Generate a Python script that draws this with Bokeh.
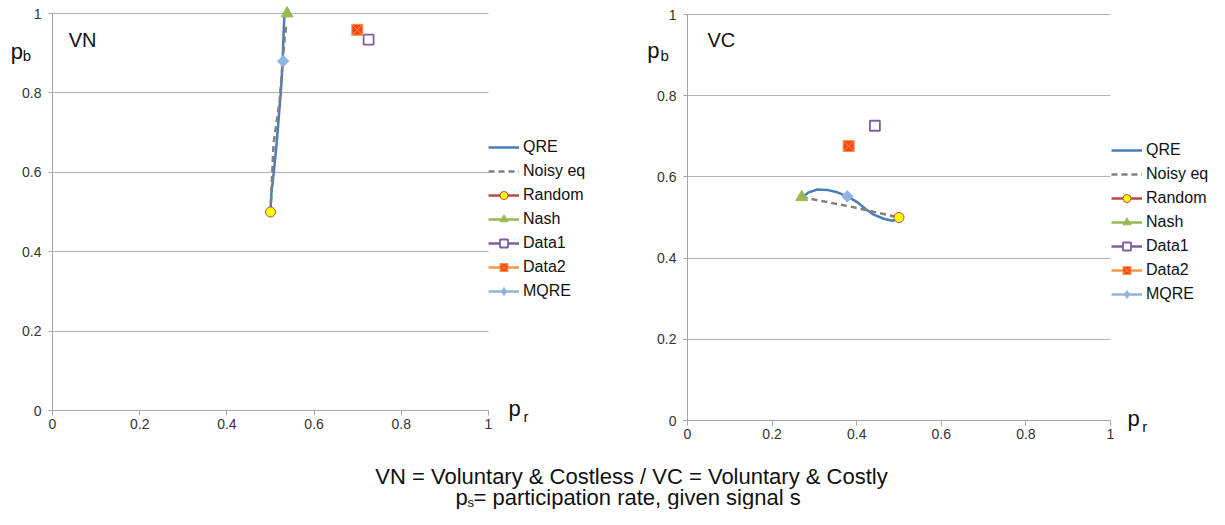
from bokeh.plotting import figure
from bokeh.models import Range1d, FixedTicker, Legend, LegendItem, Label, BoxAnnotation, Grid
from bokeh.layouts import column, row
from bokeh.embed import file_html
from bokeh.resources import INLINE

# ---------------- data ----------------
tick_vals = [0, 0.2, 0.4, 0.6, 0.8, 1]
tick_labels = ["0", "0.2", "0.4", "0.6", "0.8", "1"]
series_names = ["QRE", "Noisy eq", "Random", "Nash", "Data1", "Data2", "MQRE"]

# VN panel
vn_qre_x = [0.5, 0.502, 0.508, 0.514, 0.519, 0.524, 0.528, 0.530, 0.532]
vn_qre_y = [0.5, 0.546, 0.605, 0.672, 0.739, 0.806, 0.882, 0.95, 1.0]
vn_noisy_x = [0.5, 0.507, 0.521, 0.527, 0.532, 0.536]
vn_noisy_y = [0.5, 0.672, 0.781, 0.865, 0.932, 0.97]
vn_random = (0.5, 0.5)
vn_nash = (0.538, 1.0)
vn_data1 = (0.725, 0.934)
vn_data2 = (0.699, 0.959)
vn_mqre = (0.529, 0.88)

# VC panel
vc_qre_x = [0.27, 0.287, 0.307, 0.33, 0.354, 0.378, 0.401, 0.421, 0.44, 0.464, 0.484, 0.495, 0.5]
vc_qre_y = [0.55, 0.562, 0.569, 0.568, 0.562, 0.552, 0.538, 0.521, 0.507, 0.497, 0.492, 0.495, 0.5]
vc_noisy_x = [0.27, 0.385, 0.5]
vc_noisy_y = [0.55, 0.527, 0.5]
vc_random = (0.5, 0.5)
vc_nash = (0.27, 0.55)
vc_data1 = (0.443, 0.726)
vc_data2 = (0.381, 0.676)
vc_mqre = (0.378, 0.552)

caption_1 = "VN = Voluntary & Costless / VC = Voluntary & Costly"
caption_2 = " = participation rate, given signal s"

FONT = "Liberation Sans"
GRID = "#B3B3B3"
AXIS = "#A6A6A6"
TXT = "#111111"

ROW_H = 443


def make_panel(qx, qy, nx, ny, rnd, nash, d1, d2, mq, width, px0, px1, py1, py0,
               leg_loc, lab):
    # frame fills the whole figure; the unit square maps to pixels px0..px1, py1..py0 (from top)
    sx = px1 - px0
    sy = py0 - py1
    xr = Range1d(-px0 / sx, (width - px0) / sx)
    yr = Range1d(-(ROW_H - py0) / sy, 1 + py1 / sy)
    p = figure(width=width, height=ROW_H, output_backend="svg", toolbar_location=None,
               x_range=xr, y_range=yr, min_border_left=0, min_border_right=0,
               min_border_top=0, min_border_bottom=0)
    p.outline_line_color = None
    p.background_fill_color = "white"
    p.border_fill_color = "white"
    p.xgrid.grid_line_color = None
    p.ygrid.ticker = FixedTicker(ticks=tick_vals)
    p.ygrid.grid_line_color = GRID
    p.ygrid.grid_line_width = 1
    if "cross_bounds" in Grid.properties():
        p.ygrid.cross_bounds = (0, 1)
    else:
        for kw in (dict(right=0), dict(left=1)):
            p.add_layout(BoxAnnotation(fill_color="white", fill_alpha=1, line_color=None,
                                       level="underlay", **kw))
    overrides = {v: l for v, l in zip(tick_vals, tick_labels)}
    for ax in (p.xaxis[0], p.yaxis[0]):
        ax.fixed_location = 0
        ax.bounds = (0, 1)
        ax.ticker = FixedTicker(ticks=tick_vals)
        ax.major_label_overrides = overrides
        ax.axis_line_color = AXIS
        ax.major_tick_line_color = AXIS
        ax.minor_tick_line_color = None
        ax.major_tick_in = 0
        ax.major_label_text_font = FONT
        ax.major_label_text_font_size = "14px"
        ax.major_label_text_color = "#333333"
    p.xaxis.major_tick_out = 5
    p.xaxis.major_label_standoff = 3
    p.yaxis.major_tick_out = 4
    p.yaxis.major_label_standoff = 7

    r_qre = p.line(qx, qy, line_color="#4A7EBB", line_width=2.5)
    r_noisy = p.line(nx, ny, line_color="#808080", line_width=2.5, line_dash="6 4")

    def point(pt, line_color, marker, fill, edge, size, lw=1.0):
        rl = p.line([pt[0]], [pt[1]], line_color=line_color, line_width=2.5)
        rs = p.scatter([pt[0]], [pt[1]], marker=marker, size=size, fill_color=fill,
                       line_color=edge, line_width=lw)
        return [rl, rs]

    r_rand = point(rnd, "#BE4B48", "circle", "#FFFF00", "#BE4B48", 10, 1.0)
    r_nash = point(nash, "#98B954", "triangle", "#98B954", "#98B954", 12, 1.0)
    r_d1 = point(d1, "#7D60A0", "square", "white", "#7D60A0", 10, 1.8)
    r_d2 = point(d2, "#F79646", "square_x", "#FA4616", "#F79646", 11, 1.0)
    # MQRE: diamond glyph (used for the legend) under a 45-degree square of the same colour
    mq_line = p.line([mq[0]], [mq[1]], line_color="#94B6D2", line_width=2.5)
    mq_leg = p.scatter([mq[0]], [mq[1]], marker="diamond", size=11,
                       fill_color="#8EB4E3", line_color="#8EB4E3")
    p.scatter([mq[0]], [mq[1]], marker="square", size=8, angle=0.785398,
              fill_color="#8EB4E3", line_color="#8EB4E3")
    r_mq = [mq_line, mq_leg]

    rends = [[r_qre], [r_noisy], r_rand, r_nash, r_d1, r_d2, r_mq]
    items = [LegendItem(label=n, renderers=r) for n, r in zip(series_names, rends)]
    legend = Legend(items=items, location=leg_loc, glyph_width=31, glyph_height=20,
                    label_height=20, label_standoff=4, spacing=4, padding=0, margin=0,
                    border_line_color=None, background_fill_alpha=0,
                    label_text_font=FONT, label_text_font_size="16px",
                    label_text_color=TXT)
    p.add_layout(legend)

    for (x, y, t, size) in lab:
        p.add_layout(Label(x=x, y=y, text=t, text_font=FONT, text_font_size=size,
                           text_color=TXT, text_baseline="middle"))
    return p


vn_labels = [
    (0.037, 0.932, "VN", "20px"),
    (-0.096, 0.904, "p", "22px"),
    (-0.068, 0.894, "b", "15px"),
    (1.046, 0.006, "p", "22px"),
    (1.080, -0.015, "r", "15px"),
]
vc_labels = [
    (0.047, 0.937, "VC", "20px"),
    (-0.095, 0.911, "p", "22px"),
    (-0.064, 0.899, "b", "15px"),
    (1.040, 0.006, "p", "22px"),
    (1.075, -0.015, "r", "15px"),
]

W1, W2 = 632, 577
p1 = make_panel(vn_qre_x, vn_qre_y, vn_noisy_x, vn_noisy_y, vn_random, vn_nash,
                vn_data1, vn_data2, vn_mqre, W1, 52, 488, 13, 410, (488, 142), vn_labels)
p2 = make_panel(vc_qre_x, vc_qre_y, vc_noisy_x, vc_noisy_y, vc_random, vc_nash,
                vc_data1, vc_data2, vc_mqre, W2, 55, 478, 14, 420, (479, 139), vc_labels)

CAP_H = 509 - ROW_H
cap = figure(width=W1 + W2, height=CAP_H, output_backend="svg", toolbar_location=None,
             x_range=Range1d(0, W1 + W2), y_range=Range1d(0, CAP_H),
             x_axis_location=None, y_axis_location=None,
             min_border_left=0, min_border_right=0, min_border_top=0, min_border_bottom=0)
cap.grid.visible = False
cap.outline_line_color = None
cap.add_layout(Label(x=631, y=33, text=caption_1, text_font=FONT, text_font_size="22px",
                     text_align="center", text_baseline="middle", text_color=TXT))
cap.add_layout(Label(x=455, y=12, text="p", text_font=FONT, text_font_size="22px",
                     text_baseline="middle", text_color=TXT))
cap.add_layout(Label(x=467, y=7, text="s", text_font=FONT, text_font_size="13px",
                     text_baseline="middle", text_color=TXT))
cap.add_layout(Label(x=473, y=12, text=caption_2, text_font=FONT, text_font_size="22px",
                     text_baseline="middle", text_color=TXT))

layout = column(row(p1, p2), cap)
open("out.html", "w").write(file_html(layout, INLINE))
